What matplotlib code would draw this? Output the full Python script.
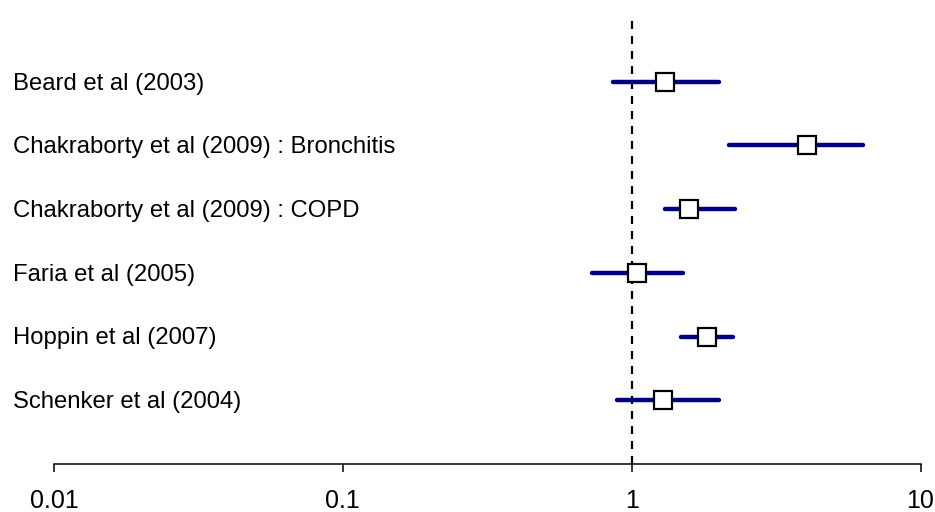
import matplotlib
matplotlib.use("Agg")
import matplotlib.pyplot as plt
import matplotlib.transforms as mtransforms

# Study labels and odds ratios with 95% CI
studies = [
    "Beard et al (2003)",
    "Chakraborty et al (2009) : Bronchitis",
    "Chakraborty et al (2009) : COPD",
    "Faria et al (2005)",
    "Hoppin et al (2007)",
    "Schenker et al (2004)",
]
estimate = [1.30, 4.05, 1.58, 1.04, 1.82, 1.28]
ci_low = [0.86, 2.17, 1.30, 0.73, 1.48, 0.89]
ci_high = [2.01, 6.32, 2.28, 1.50, 2.24, 2.01]

tick_values = [0.01, 0.1, 1, 10]
tick_labels = ["0.01", "0.1", "1", "10"]

plt.rcParams["font.family"] = ["Liberation Sans", "DejaVu Sans"]
plt.rcParams["lines.scale_dashes"] = False

fig = plt.figure(figsize=(9.35, 5.12), dpi=100)
ax = fig.add_axes([54 / 935, 48 / 512, 866.5 / 935, 446 / 512])

rows = list(range(len(studies)))

# reference line at 1
ax.axvline(1, color="black", lw=1.6, dashes=(5.8, 5.0), zorder=1)

for r, est, lo, hi in zip(rows, estimate, ci_low, ci_high):
    ax.plot([lo, hi], [r, r], color="#000080", lw=3.2,
            solid_capstyle="round", zorder=2)
    ax.plot(est, r, marker="s", ms=12.5, mfc="white", mec="black",
            mew=1.6, zorder=3)

trans = mtransforms.blended_transform_factory(ax.transAxes, ax.transData)
for r, name in zip(rows, studies):
    ax.text((13 - 54) / 866.5, r + 0.03, name, transform=trans, ha="left",
            va="center", fontsize=17.2, clip_on=False)

ax.set_xscale("log")
ax.set_xlim(0.01, 10)
ax.set_ylim(6, -1)
ax.set_xticks(tick_values)
ax.set_xticklabels(tick_labels)
ax.minorticks_off()
ax.set_yticks([])

for side in ["top", "right", "left"]:
    ax.spines[side].set_visible(False)
ax.spines["bottom"].set_linewidth(1.1)
ax.tick_params(axis="x", direction="out", length=5.8, width=1.1,
               labelsize=18, pad=12)

fig.savefig("out.png", dpi=100)
